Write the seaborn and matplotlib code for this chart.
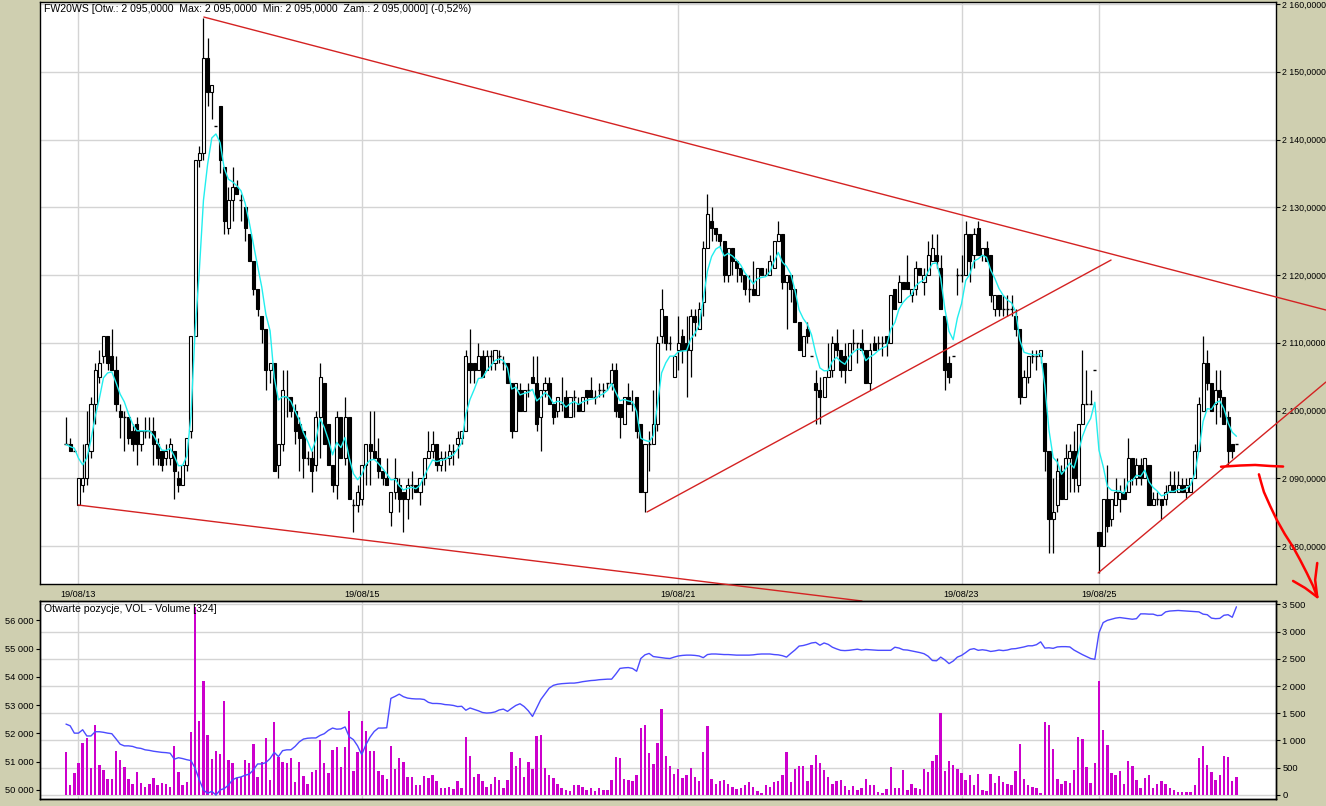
import numpy as np
import pandas as pd
import matplotlib
matplotlib.use("Agg")
import matplotlib.pyplot as plt
import seaborn as sns
from matplotlib.ticker import FixedLocator, FuncFormatter

# ---------------- data ----------------
opens = [
    2095, 2095, 2094, 2086, 2089, 2090, 2094, 2101, 2105, 2108,
    2111, 2108, 2106, 2100, 2099, 2099, 2097, 2098, 2095, 2097,
    2097, 2097, 2095, 2094, 2093, 2093, 2094, 2090, 2089, 2092,
    2097, 2111, 2137, 2138, 2152, 2147, 2142, 2145, 2136, 2127,
    2131, 2133, 2131, 2130, 2126, 2122, 2118, 2114, 2112, 2106,
    2107, 2092, 2095, 2102, 2102, 2100, 2098, 2097, 2093, 2093,
    2092, 2099, 2104, 2098, 2092, 2089, 2099, 2093, 2099, 2086,
    2086, 2087, 2092, 2095, 2094, 2093, 2091, 2090, 2085, 2088,
    2089, 2088, 2087, 2089, 2089, 2088, 2090, 2093, 2094, 2095,
    2092, 2093, 2093, 2094, 2095, 2096, 2097, 2107, 2107, 2106,
    2108, 2106, 2108, 2107, 2108, 2107, 2107, 2104, 2097, 2103,
    2100, 2103, 2105, 2104, 2099, 2103, 2104, 2101, 2100, 2101,
    2102, 2099, 2102, 2101, 2100, 2103, 2103, 2102, 2103, 2103,
    2104, 2104, 2106, 2101, 2098, 2102, 2101, 2102, 2098, 2088,
    2095, 2095, 2098, 2111, 2114, 2110, 2105, 2109, 2111, 2110,
    2109, 2114, 2112, 2116, 2124, 2128, 2127, 2126, 2125, 2120,
    2124, 2122, 2121, 2120, 2118, 2118, 2117, 2121, 2120, 2120,
    2121, 2125, 2126, 2119, 2120, 2118, 2113, 2108, 2112, 2108,
    2104, 2103, 2102, 2105, 2106, 2110, 2109, 2108, 2106, 2110,
    2110, 2110, 2109, 2104, 2110, 2110, 2110, 2111, 2110, 2118,
    2116, 2119, 2119, 2117, 2118, 2121, 2119, 2120, 2122, 2123,
    2121, 2114, 2107, 2108, 2120, 2120, 2120, 2126, 2123, 2127,
    2123, 2124, 2123, 2115, 2117, 2115, 2115, 2115, 2114, 2112,
    2102, 2105, 2108, 2108, 2108, 2107, 2094, 2084, 2086, 2091,
    2087, 2093, 2094, 2089, 2098, 2101, 2101, 2106, 2082, 2080,
    2087, 2084, 2086, 2087, 2088, 2088, 2093, 2090, 2092, 2090,
    2092, 2086, 2087, 2087, 2087, 2088, 2089, 2088, 2089, 2088,
    2088, 2090, 2094, 2100, 2107, 2104, 2101, 2103, 2102, 2099,
    2095, 2095,
]
highs = [
    2099, 2096, 2094, 2090, 2095, 2100, 2102, 2107, 2109, 2111,
    2111, 2112, 2108, 2101, 2100, 2099, 2098, 2099, 2097, 2099,
    2099, 2099, 2096, 2094, 2095, 2096, 2094, 2091, 2092, 2096,
    2111, 2137, 2139, 2158, 2155, 2148, 2142, 2145, 2136, 2133,
    2136, 2134, 2132, 2130, 2126, 2122, 2118, 2114, 2112, 2107,
    2107, 2095, 2106, 2106, 2102, 2101, 2099, 2097, 2094, 2094,
    2100, 2107, 2104, 2098, 2092, 2100, 2099, 2102, 2099, 2087,
    2089, 2092, 2095, 2100, 2100, 2096, 2091, 2093, 2088, 2093,
    2090, 2088, 2090, 2091, 2089, 2090, 2093, 2097, 2097, 2095,
    2094, 2094, 2095, 2095, 2097, 2097, 2109, 2112, 2107, 2110,
    2109, 2109, 2109, 2109, 2109, 2108, 2107, 2104, 2104, 2104,
    2103, 2104, 2108, 2108, 2103, 2105, 2105, 2101, 2102, 2105,
    2103, 2102, 2103, 2102, 2102, 2103, 2105, 2103, 2104, 2104,
    2104, 2107, 2107, 2101, 2102, 2104, 2103, 2102, 2098, 2095,
    2097, 2103, 2111, 2118, 2114, 2111, 2108, 2114, 2112, 2114,
    2115, 2115, 2116, 2125, 2132, 2130, 2127, 2126, 2125, 2124,
    2124, 2122, 2121, 2120, 2120, 2122, 2121, 2121, 2121, 2123,
    2125, 2128, 2126, 2120, 2120, 2118, 2113, 2111, 2113, 2108,
    2106, 2105, 2105, 2110, 2111, 2112, 2109, 2110, 2110, 2112,
    2110, 2112, 2109, 2110, 2111, 2111, 2111, 2111, 2117, 2118,
    2120, 2119, 2123, 2118, 2122, 2121, 2121, 2125, 2126, 2126,
    2123, 2114, 2108, 2108, 2121, 2123, 2128, 2126, 2127, 2128,
    2124, 2125, 2123, 2117, 2117, 2117, 2117, 2117, 2115, 2112,
    2106, 2108, 2109, 2109, 2109, 2107, 2094, 2090, 2093, 2092,
    2095, 2095, 2097, 2098, 2109, 2106, 2103, 2106, 2082, 2087,
    2092, 2087, 2090, 2089, 2090, 2096, 2093, 2093, 2093, 2093,
    2092, 2088, 2088, 2087, 2089, 2091, 2091, 2091, 2090, 2090,
    2090, 2095, 2102, 2111, 2109, 2104, 2106, 2106, 2102, 2100,
    2095, 2095,
]
lows = [
    2095, 2094, 2094, 2086, 2088, 2089, 2093, 2098, 2104, 2107,
    2106, 2106, 2100, 2096, 2094, 2095, 2094, 2092, 2094, 2096,
    2096, 2092, 2092, 2091, 2092, 2092, 2087, 2088, 2089, 2091,
    2096, 2111, 2136, 2137, 2145, 2143, 2142, 2135, 2126, 2126,
    2128, 2132, 2128, 2125, 2122, 2117, 2114, 2110, 2103, 2104,
    2091, 2090, 2094, 2099, 2099, 2095, 2091, 2090, 2092, 2088,
    2091, 2093, 2095, 2092, 2088, 2087, 2093, 2092, 2087, 2082,
    2085, 2086, 2089, 2089, 2093, 2090, 2089, 2089, 2083, 2087,
    2085, 2082, 2084, 2087, 2088, 2086, 2089, 2093, 2093, 2091,
    2091, 2091, 2092, 2092, 2093, 2095, 2097, 2104, 2104, 2106,
    2105, 2106, 2106, 2106, 2107, 2106, 2104, 2096, 2097, 2100,
    2100, 2102, 2104, 2097, 2094, 2102, 2101, 2098, 2099, 2100,
    2099, 2099, 2099, 2100, 2100, 2101, 2102, 2101, 2102, 2102,
    2103, 2103, 2099, 2096, 2098, 2101, 2100, 2096, 2088, 2085,
    2091, 2095, 2097, 2110, 2109, 2109, 2105, 2106, 2107, 2102,
    2105, 2111, 2112, 2114, 2124, 2125, 2125, 2124, 2119, 2119,
    2120, 2119, 2119, 2117, 2116, 2117, 2117, 2120, 2120, 2120,
    2121, 2125, 2118, 2112, 2116, 2113, 2109, 2108, 2110, 2108,
    2098, 2098, 2102, 2105, 2105, 2108, 2105, 2104, 2106, 2109,
    2107, 2109, 2104, 2103, 2109, 2109, 2108, 2108, 2110, 2115,
    2116, 2118, 2118, 2116, 2117, 2120, 2117, 2120, 2122, 2121,
    2115, 2103, 2104, 2108, 2117, 2119, 2120, 2119, 2121, 2123,
    2122, 2122, 2116, 2114, 2114, 2114, 2114, 2114, 2111, 2101,
    2102, 2104, 2107, 2106, 2107, 2091, 2079, 2079, 2085, 2087,
    2087, 2088, 2088, 2088, 2098, 2101, 2101, 2106, 2076, 2080,
    2082, 2083, 2086, 2085, 2087, 2088, 2089, 2089, 2089, 2090,
    2086, 2086, 2086, 2084, 2086, 2088, 2088, 2088, 2088, 2087,
    2088, 2090, 2094, 2100, 2103, 2100, 2098, 2099, 2098, 2092,
    2093, 2095,
]
closes = [
    2095, 2094, 2094, 2090, 2090, 2095, 2101, 2106, 2107, 2111,
    2107, 2106, 2101, 2099, 2099, 2096, 2095, 2095, 2097, 2097,
    2097, 2095, 2093, 2092, 2094, 2095, 2091, 2089, 2092, 2096,
    2111, 2137, 2138, 2152, 2147, 2148, 2142, 2137, 2128, 2131,
    2133, 2132, 2131, 2127, 2122, 2118, 2115, 2112, 2106, 2107,
    2091, 2095, 2103, 2102, 2100, 2097, 2096, 2093, 2093, 2091,
    2099, 2105, 2095, 2092, 2089, 2099, 2093, 2099, 2087, 2086,
    2088, 2092, 2095, 2094, 2093, 2091, 2090, 2089, 2088, 2090,
    2087, 2087, 2089, 2089, 2088, 2090, 2093, 2094, 2095, 2092,
    2093, 2093, 2094, 2094, 2096, 2097, 2108, 2106, 2106, 2108,
    2105, 2108, 2108, 2109, 2108, 2107, 2104, 2097, 2104, 2100,
    2103, 2103, 2104, 2098, 2103, 2104, 2101, 2099, 2102, 2101,
    2099, 2102, 2102, 2100, 2102, 2102, 2102, 2102, 2103, 2103,
    2104, 2106, 2100, 2099, 2102, 2101, 2101, 2097, 2088, 2095,
    2095, 2098, 2110, 2115, 2110, 2110, 2108, 2110, 2109, 2109,
    2114, 2113, 2115, 2124, 2129, 2127, 2126, 2125, 2120, 2124,
    2122, 2121, 2120, 2118, 2118, 2117, 2121, 2120, 2120, 2122,
    2125, 2126, 2119, 2120, 2118, 2113, 2109, 2111, 2111, 2108,
    2103, 2102, 2105, 2106, 2110, 2109, 2106, 2106, 2110, 2110,
    2110, 2109, 2104, 2109, 2109, 2110, 2110, 2110, 2117, 2115,
    2119, 2118, 2118, 2118, 2121, 2120, 2120, 2123, 2124, 2122,
    2115, 2106, 2105, 2108, 2120, 2120, 2126, 2122, 2126, 2123,
    2124, 2122, 2117, 2117, 2115, 2115, 2115, 2115, 2112, 2102,
    2105, 2108, 2108, 2108, 2109, 2094, 2084, 2085, 2091, 2087,
    2093, 2094, 2090, 2098, 2101, 2101, 2101, 2106, 2080, 2087,
    2083, 2087, 2088, 2088, 2087, 2093, 2090, 2092, 2090, 2093,
    2086, 2087, 2087, 2086, 2088, 2089, 2088, 2089, 2088, 2089,
    2090, 2094, 2101, 2107, 2104, 2100, 2103, 2102, 2098, 2094,
    2094, 2095,
]
volume = [
    792, 184, 411, 589, 958, 1050, 497, 1289, 547, 455,
    295, 295, 810, 645, 516, 295, 203, 424, 221, 147,
    203, 313, 184, 221, 203, 147, 903, 424, 184, 239,
    1160, 3450, 1363, 2100, 1105, 663, 810, 755, 1730, 645,
    589, 313, 332, 645, 589, 939, 332, 608, 1050, 276,
    1345, 700, 608, 589, 681, 239, 608, 350, 203, 424,
    460, 1013, 589, 405, 829, 884, 516, 884, 1547, 442,
    792, 1363, 1179, 810, 810, 442, 368, 300, 903, 479,
    681, 611, 333, 333, 185, 185, 352, 315, 370, 253,
    130, 130, 148, 111, 253, 130, 1055, 722, 333, 389,
    253, 148, 204, 333, 278, 130, 278, 796, 537, 685,
    333, 611, 481, 1074, 1110, 500, 370, 315, 204, 130,
    93, 74, 185, 185, 148, 93, 130, 74, 130, 93,
    93, 278, 703, 685, 296, 278, 259, 370, 1222, 1277,
    763, 577, 949, 1581, 707, 539, 391, 484, 316, 372,
    502, 335, 260, 781, 1265, 298, 205, 260, 279, 205,
    149, 112, 130, 186, 242, 149, 74, 37, 186, 149,
    242, 260, 372, 781, 242, 484, 539, 539, 260, 558,
    725, 595, 465, 335, 205, 260, 279, 167, 93, 167,
    93, 130, 298, 186, 186, 56, 37, 112, 521, 130,
    130, 465, 93, 205, 130, 112, 484, 428, 632, 725,
    1507, 446, 632, 558, 484, 409, 279, 372, 186, 391,
    93, 74, 391, 223, 353, 242, 205, 186, 446, 930,
    298, 186, 149, 130, 37, 1339, 1283, 837, 298, 205,
    260, 223, 465, 1060, 1023, 521, 223, 595, 2083, 1190,
    911, 409, 372, 446, 205, 632, 539, 279, 130, 316,
    372, 130, 205, 260, 205, 130, 93, 56, 56, 56,
    56, 186, 670, 893, 558, 428, 279, 372, 707, 688,
    260, 324,
]
open_interest = [
    52330, 52270, 52010, 52010, 52130, 51910, 51910, 52060, 52060, 52040,
    52010, 51990, 51810, 51620, 51560, 51560, 51540, 51490, 51470, 51420,
    51400, 51370, 51350, 51330, 51320, 51300, 51090, 51140, 51110, 51070,
    51040, 50770, 50360, 50000, 49880, 49950, 49820, 50000, 50050, 50170,
    50360, 50430, 50460, 50520, 50560, 50710, 50920, 50920, 50970, 51110,
    51330, 51180, 51390, 51420, 51420, 51540, 51700, 51800, 51830, 51840,
    51840, 51930, 51990, 52110, 52190, 52150, 52160, 52230, 51880, 51780,
    51560, 51250, 51600, 51870, 52070, 52190, 52190, 52200, 53240, 53310,
    53390, 53300, 53250, 53230, 53220, 53220, 53200, 53100, 53060, 53060,
    53050, 53020, 53010, 52990, 52950, 52960, 52820, 52900, 52850, 52800,
    52740, 52720, 52730, 52760, 52830, 52860, 52780, 52890, 52990, 53050,
    52950, 52800, 52600, 52900, 53200, 53400, 53600, 53700, 53740, 53760,
    53770, 53780, 53780, 53800, 53830, 53850, 53870, 53880, 53900, 53910,
    53920, 53920, 54100, 54300, 54320, 54330, 54300, 54200, 54650, 54780,
    54830, 54720, 54700, 54680, 54660, 54650, 54700, 54740, 54760, 54770,
    54770, 54760, 54740, 54680, 54790, 54810, 54810, 54800, 54790, 54790,
    54780, 54770, 54770, 54770, 54770, 54780, 54800, 54810, 54810, 54810,
    54790, 54780, 54750, 54700, 54830, 54950, 55090, 55110, 55150, 55200,
    55220, 55120, 55200, 55150, 55050, 54990, 54940, 54930, 54940, 54960,
    54980, 54950, 54970, 54960, 54950, 54940, 54940, 54940, 54940, 55050,
    55020, 54960, 54950, 54920, 54890, 54860, 54820, 54730, 54580, 54570,
    54700, 54600, 54470, 54560, 54700, 54760, 54860, 54970, 55000, 54940,
    54960, 54940, 54900, 54920, 54950, 54930, 54950, 54990, 55000, 55030,
    55060, 55100, 55100, 55140, 55240, 55020, 55030, 55010, 55060, 55070,
    55070, 55060, 54950, 54870, 54790, 54720, 54650, 54620, 55560, 55920,
    56000, 56040, 56080, 56100, 56080, 56060, 56040, 56060, 56230, 56230,
    56220, 56220, 56170, 56180, 56300, 56330, 56340, 56350, 56340, 56330,
    56320, 56310, 56300, 56220, 56200, 56080, 56060, 56070, 56180, 56200,
    56110, 56480,
]

date_ticks = [3, 71, 147, 215, 248]
date_labels = ["19/08/13", "19/08/15", "19/08/21", "19/08/23", "19/08/25"]
price_ticks = [2080, 2090, 2100, 2110, 2120, 2130, 2140, 2150, 2160]
volume_ticks = [0, 500, 1000, 1500, 2000, 2500, 3000, 3500]
oi_ticks = [50000, 51000, 52000, 53000, 54000, 55000, 56000]

title_main = "FW20WS [Otw.: 2 095,0000  Max: 2 095,0000  Min: 2 095,0000  Zam.: 2 095,0000] (-0,52%)"
title_low = "Otwarte pozycje, VOL - Volume [324]"

# trend lines drawn on the chart: (candle index, price) pairs
trend_down_upper = ([33.1, 302.5], [2158.08, 2114.83])
trend_down_lower = ([2.9, 191.1], [2086.05, 2071.88])
trend_up_middle = ([139.5, 250.9], [2085.02, 2122.21])
trend_up_right = ([247.8, 302.5], [2076.02, 2104.21])
# hand-drawn red marks (candle index, price)
hand_stroke = ([277.3, 281.9, 285.5, 289.1, 292.2], [2091.70, 2091.88, 2091.96, 2091.81, 2091.73])
hand_arrow = ([286.4, 286.9, 287.6, 289.1, 290.7, 292.6, 294.6, 296.3, 297.9, 299.4, 300.4],
              [2090.58, 2089.45, 2087.97, 2085.90, 2083.84, 2081.77, 2079.85, 2077.93, 2076.01, 2074.10, 2072.47])
hand_head1 = ([294.6, 297.5, 300.4], [2074.84, 2073.80, 2072.47])
hand_head2 = ([300.4, 299.9, 300.4], [2077.49, 2074.99, 2072.47])

# ---------------- style ----------------
BG = "#CFCFB0"
GRID = "#D4D4D4"
sns.set_theme(style="white")
plt.rcParams['font.family'] = ['Liberation Sans', 'DejaVu Sans']
plt.rcParams['axes.edgecolor'] = 'black'
plt.rcParams['axes.linewidth'] = 1.0

W, H = 1326, 806
fig = plt.figure(figsize=(W / 100, H / 100), dpi=100, facecolor=BG)


def px_axes(l, t, r, b):
    return fig.add_axes([l / W, 1 - b / H, (r - l) / W, (b - t) / H])


n = min(len(opens), len(highs), len(lows), len(closes), len(volume), len(open_interest))
O = np.asarray(opens[:n], float)
Hh = np.asarray(highs[:n], float)
L = np.asarray(lows[:n], float)
C = np.asarray(closes[:n], float)
V = np.asarray(volume[:n], float)
OI = np.asarray(open_interest[:n], float)
idx = np.arange(n)
Hh = np.maximum(Hh, np.maximum(O, C))
L = np.minimum(L, np.minimum(O, C))

XL = (-6.24, 290.5)
TICK_FS = 6.3

# ---------------- main price panel ----------------
ax = px_axes(40, 2, 1276, 584)
ax.set_facecolor("white")
ax.set_xlim(*XL)
ax.set_ylim(2074.39, 2160.3)
ax.set_axisbelow(True)
ax.yaxis.set_major_locator(FixedLocator(price_ticks))
ax.yaxis.set_major_formatter(FuncFormatter(lambda v, p: f"{int(round(v)):,}".replace(",", " ") + ",0000"))
ax.xaxis.set_major_locator(FixedLocator(date_ticks))
ax.set_xticklabels(date_labels)
ax.grid(True, color=GRID, lw=1.0)
ax.yaxis.tick_right()
ax.tick_params(axis='y', right=True, left=False, labelright=True, labelleft=False,
               direction='out', length=3, width=0.8, pad=1.2, labelsize=TICK_FS, colors='black')
ax.tick_params(axis='x', length=0, pad=4, labelsize=6.6, colors='black')

# candles
ax.vlines(idx, L, Hh, color='black', lw=0.9, zorder=2)
up = C > O
down = C < O
flat = C == O
bw = 0.74
ax.bar(idx[up], (C - O)[up], bottom=O[up], width=bw, color='white', edgecolor='black', lw=0.8, zorder=3)
ax.bar(idx[down], (O - C)[down], bottom=C[down], width=bw, color='black', edgecolor='black', lw=0.8, zorder=3)
ax.hlines(C[flat], idx[flat] - bw / 2, idx[flat] + bw / 2, color='black', lw=1.0, zorder=3)

# moving average (cyan)
ma = pd.Series(C).ewm(span=5, adjust=False).mean()
sns.lineplot(x=idx, y=ma.values, ax=ax, color='#22EEEE', lw=1.0, zorder=4)

# trend lines
tl_color = '#D42222'
for xs, ys in (trend_down_upper, trend_down_lower, trend_up_middle, trend_up_right):
    ax.plot(xs, ys, color=tl_color, lw=1.0, clip_on=False, zorder=5)
for xs, ys in (hand_stroke, hand_arrow, hand_head1, hand_head2):
    ax.plot(xs, ys, color='#FF0000', lw=1.8, clip_on=False, zorder=6,
            solid_capstyle='round', solid_joinstyle='round')

ax.set_xlabel("")
ax.set_ylabel("")
ax.text(0.003, 0.997, title_main, transform=ax.transAxes, ha='left', va='top', fontsize=7.6, color='black')

# ---------------- lower panel: volume + open interest ----------------
axv = px_axes(40, 601, 1276, 799)
axv.set_facecolor("white")
axv.set_axisbelow(True)
sns.barplot(x=idx, y=V, ax=axv, native_scale=True, color='#CC00CC', saturation=1,
            width=0.58, errorbar=None, linewidth=0)
axv.set_xlim(*XL)
axv.set_ylim(-73.7, 3560)
axv.yaxis.set_major_locator(FixedLocator(volume_ticks))
axv.yaxis.set_major_formatter(FuncFormatter(lambda v, p: f"{int(round(v)):,}".replace(",", " ")))
axv.xaxis.set_major_locator(FixedLocator(date_ticks))
axv.set_xticklabels([""] * len(date_ticks))
axv.grid(True, color=GRID, lw=1.0)
axv.set_xlabel("")
axv.set_ylabel("")

axo = axv.twinx()
sns.lineplot(x=idx, y=OI, ax=axo, color='#4B4BFF', lw=1.0)
axo.set_xlim(*XL)
axo.set_ylim(49680, 56685)
axo.yaxis.set_major_locator(FixedLocator(oi_ticks))
axo.yaxis.set_major_formatter(FuncFormatter(lambda v, p: f"{int(round(v)):,}".replace(",", " ")))
axo.set_xlabel("")
axo.set_ylabel("")
axo.grid(False)

axv.yaxis.tick_right()
axv.yaxis.set_label_position('right')
axo.yaxis.tick_left()
axo.yaxis.set_label_position('left')
axv.tick_params(axis='y', right=True, left=False, labelright=True, labelleft=False,
                direction='out', length=3, width=0.8, pad=1.5, labelsize=TICK_FS + 0.4, colors='black')
axv.tick_params(axis='x', length=0, labelbottom=False)
axo.tick_params(axis='y', left=True, right=False, labelleft=True, labelright=False,
                direction='out', length=3, width=0.8, pad=1.5, labelsize=TICK_FS + 0.4, colors='black')
for a in (ax, axv, axo):
    for s in a.spines.values():
        s.set_color('black')
        s.set_linewidth(1.0)

axv.text(0.003, 0.985, title_low, transform=axv.transAxes, ha='left', va='top', fontsize=7.6,
         color='black', zorder=10)

fig.savefig("out.png", dpi=100, facecolor=BG)
